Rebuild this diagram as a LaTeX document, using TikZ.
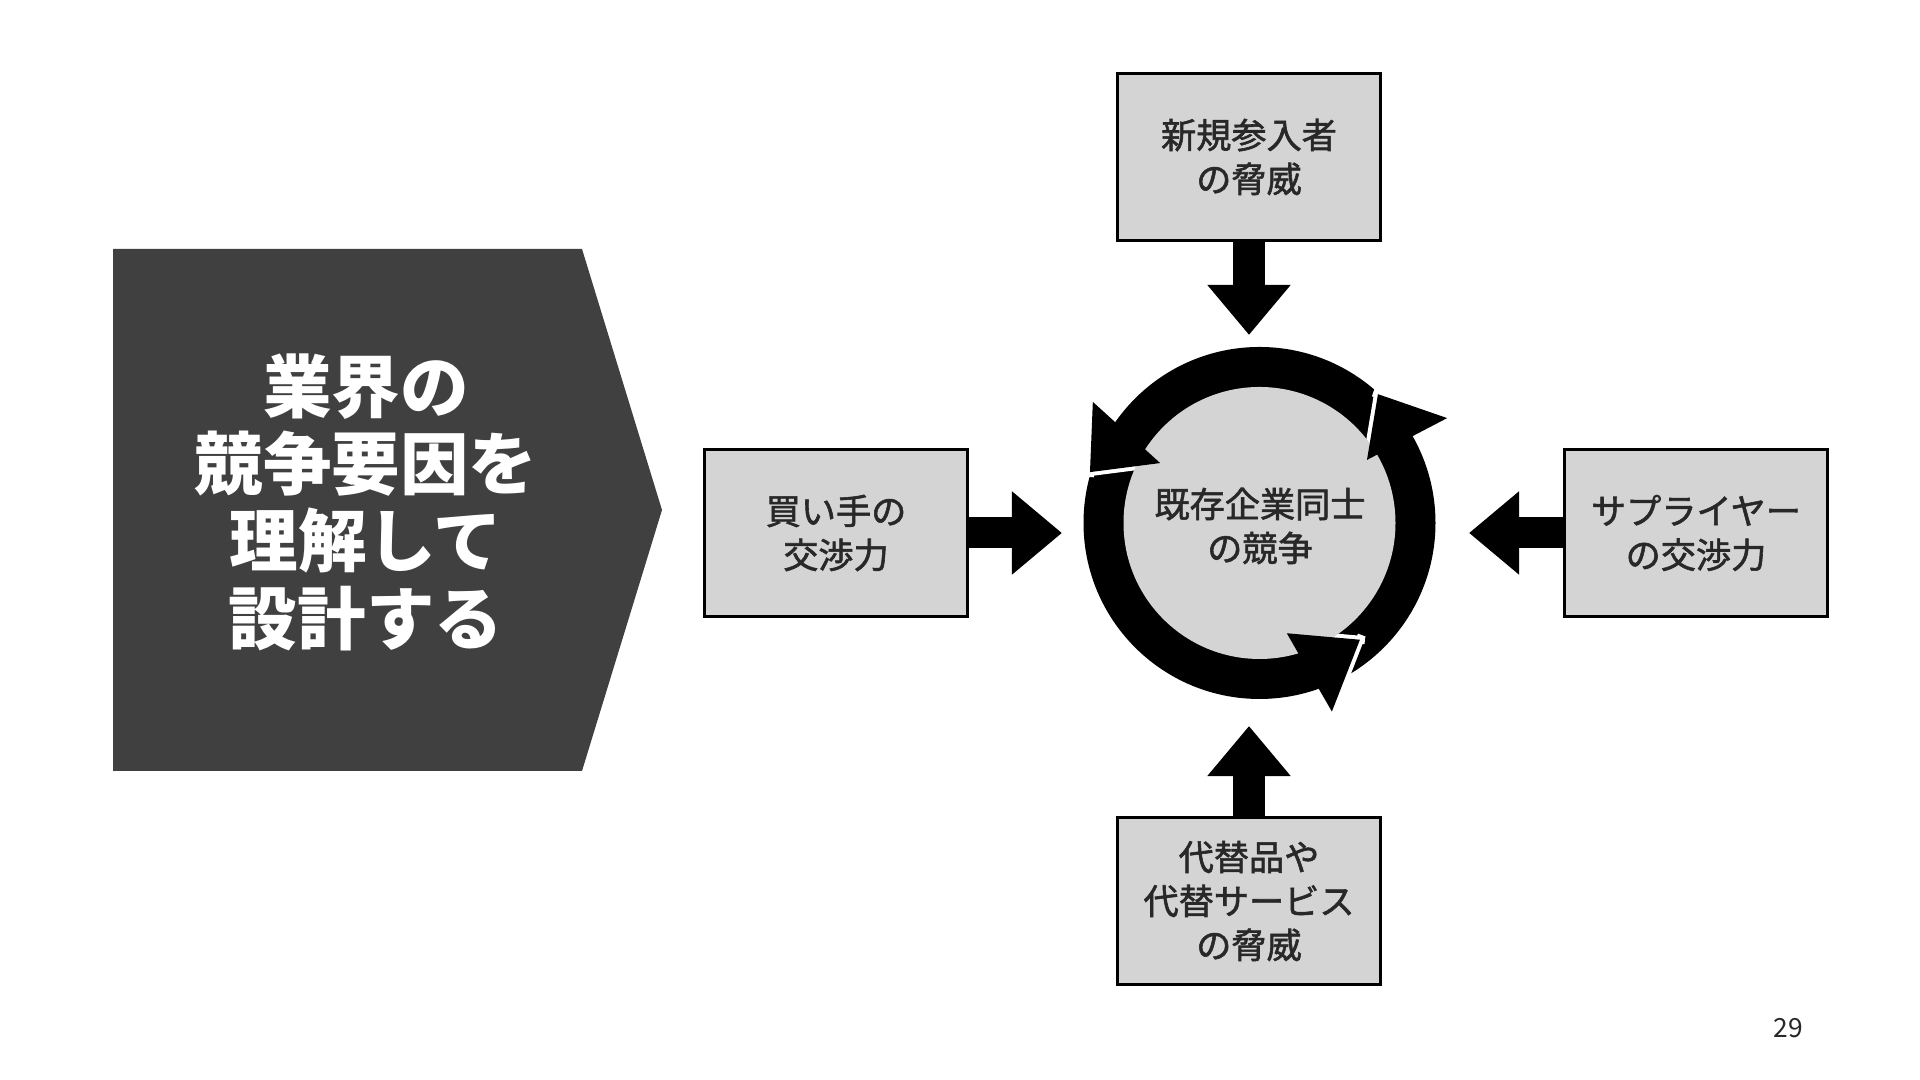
\documentclass[tikz,border=0pt]{standalone}
\usepackage{fontspec}
\setmainfont{Noto Sans CJK JP}
\newfontfamily\labelfont{Noto Sans CJK JP}[FakeBold=1.6]
\usetikzlibrary{arrows.meta,calc,positioning}

\begin{document}
\begin{tikzpicture}[
    x=0.01cm, y=0.01cm,              % 1 drawing unit = 1 px of the slide
    font=\labelfont\fontsize{10}{12.5}\selectfont,
    force/.style={draw=black,line width=0.03cm,fill=boxgray,text=ink,
      minimum width=2.62cm,minimum height=1.66cm,align=center,inner sep=0pt},
    push/.style={line width=0.31cm,-{Triangle[length=0.5cm,width=0.8cm]}},
    gap/.style={white,line width=0.08cm,shorten <=-0.05cm},
  ]
  \definecolor{boxgray}{RGB}{212,212,212}
  \definecolor{slate}{RGB}{64,64,64}
  \definecolor{ink}{RGB}{40,40,40}
  \useasboundingbox (0,0) rectangle (1920,1080);

  %% ---------------- title tag ----------------
  \fill[slate] (113,831) -- (582,831) -- (662,570) -- (582,309) -- (113,309) -- cycle;
  \node[text=white,align=center,font=\rmfamily\bfseries\fontsize{19.5}{22}\selectfont]
        (title) at (366,578) {業界の\\競争要因を\\理解して\\設計する};

  %% ---------------- five forces ----------------
  \node[force] (entrant)    at (1249,923) {新規参入者\\の脅威};
  \node[force] (buyer)      at (836,547)  {買い手の\\交渉力};
  \node[force] (supplier)   at (1696,547) {サプライヤー\\の交渉力};
  \node[force] (substitute) at (1249,179) {代替品や\\代替サービス\\の脅威};

  \coordinate (tipN) at (1249,745);
  \coordinate (tipS) at (1249,354);
  \coordinate (tipW) at (1062,547);
  \coordinate (tipE) at (1469,547);
  \draw[push] (entrant) -- (tipN);
  \draw[push] (substitute) -- (tipS);
  \draw[push] (buyer) -- (tipW);
  \draw[push] (supplier) -- (tipE);

  %% ---------------- rivalry ring ----------------
  % tip angle/radius, inner base angle/radius, outer base angle/radius
  \def\Ro{176}\def\Ri{136}
  \def\heads{163.3/177/148.9/116/144/206, 47.4/175/30.4/124.6/29.2/215,
             310.7/154/283.9/113.6/291/202}
  \coordinate (hub) at (1259.5,557);
  \fill[black] (hub) circle (\Ro);
  \begin{scope}[shift={(hub)}]
    \foreach \pa/\pr/\ia/\ir/\oa/\ob in \heads{
      \draw[gap] (\pa:\pr) -- (\ia:\ir);
      \draw[gap] (\pa:\pr) -- (\oa:\ob);}
    \fill[boxgray] (0,0) circle (\Ri);
    \foreach \pa/\pr/\ia/\ir/\oa/\ob in \heads{
      \fill[black] (\ia:\ir) -- (\pa:\pr) -- (\oa:\ob) -- cycle;}
  \end{scope}
  \node[align=center,text=ink] (rivalry) at (1260,554) {既存企業同士\\の競争};

  \node[text=ink,font=\rmfamily\fontsize{7.5}{9}\selectfont] (page) at (1788,52) {29};
\end{tikzpicture}
\end{document}
